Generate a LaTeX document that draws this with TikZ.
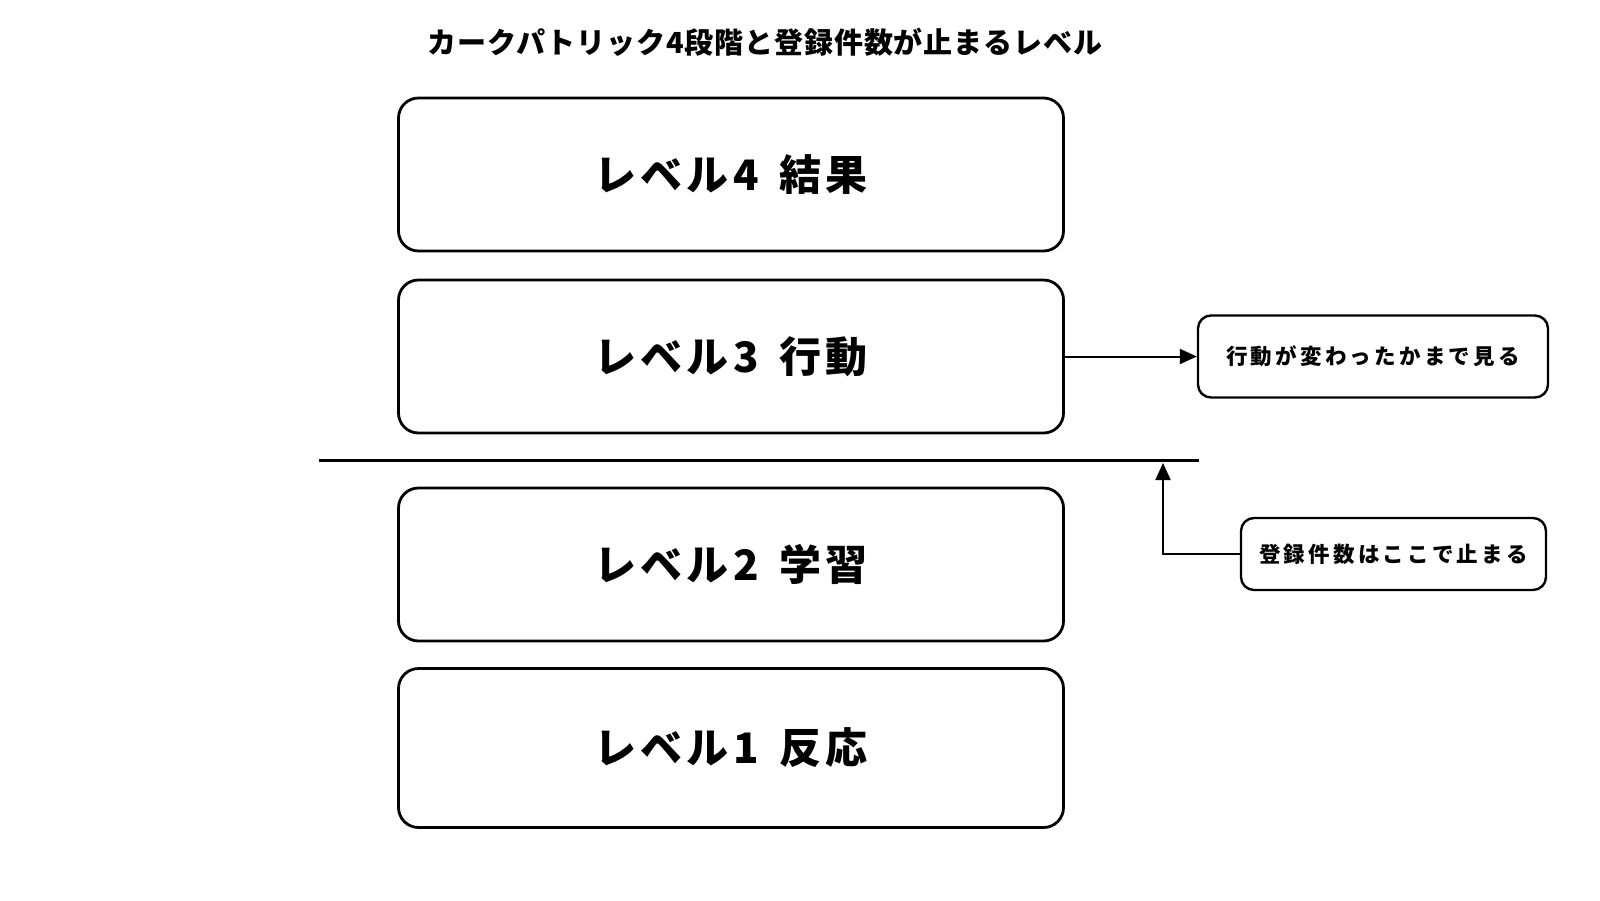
\documentclass[tikz,border=0pt]{standalone}
\usepackage{fontspec}
\setmainfont{Noto Sans CJK JP}
\newfontfamily\jpsp{Noto Sans CJK JP}[LetterSpace=15]
\newfontfamily\jpbig{Noto Sans CJK JP}[LetterSpace=10]
\newfontfamily\jptitle{Noto Sans CJK JP}[LetterSpace=3]
\usetikzlibrary{arrows.meta}
\begin{document}
\begin{tikzpicture}[x=1pt,y=-1pt,
  lvl/.style={draw, line width=2.8pt, rounded corners=20pt, minimum width=665pt, minimum height=153pt, inner sep=0pt, font=\jpbig\fontsize{42}{46}\selectfont\bfseries},
  note/.style={draw, line width=2.4pt, rounded corners=13pt, inner sep=0pt, font=\jpsp\fontsize{21.5}{24}\selectfont\bfseries},
  arr/.style={line width=2pt, -{Triangle[length=17pt,width=15pt]}},
  sep/.style={line width=3pt}]
\useasboundingbox (0,0) rectangle (1600,900);
\fill[white] (0,0) rectangle (1600,900);
\node[font=\jptitle\fontsize{29}{32}\selectfont\bfseries] (title) at (765,42) {カークパトリック4段階と登録件数が止まるレベル};
\node[lvl] (l4) at (731,174.5) {レベル4\, 結果};
\node[lvl] (l3) at (731,356.5) {レベル3\, 行動};
\node[lvl] (l2) at (731,564.5) {レベル2\, 学習};
\node[lvl, minimum height=159pt] (l1) at (731,748) {レベル1\, 反応};
\node[note, minimum width=350pt, minimum height=82pt] (r1) at (1373,356.5) {行動が変わったかまで見る};
\node[note, minimum width=305pt, minimum height=72pt] (r2) at (1393.5,554) {登録件数はここで止まる};
\coordinate (lineL) at (319,460);
\coordinate (lineR) at (1199,460);
\draw[sep] (lineL) -- (lineR);
\draw[arr] (l3.east) -- (r1.west);
\coordinate (stop) at (1163,463);
\draw[arr] (r2.west) -| (stop);
\end{tikzpicture}
\end{document}
